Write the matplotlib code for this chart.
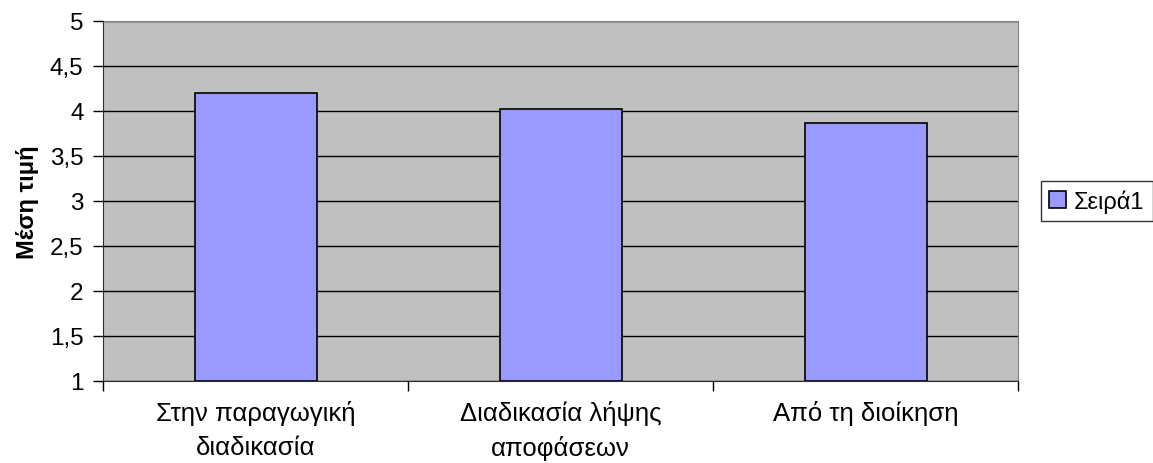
import numpy as np
import matplotlib
matplotlib.use('Agg')
import matplotlib.pyplot as plt
from matplotlib.ticker import FuncFormatter, MultipleLocator

plt.rcParams['font.family'] = ['Liberation Sans', 'DejaVu Sans']

# categories and mean values
categories = ['Στην παραγωγική\nδιαδικασία', 'Διαδικασία λήψης\nαποφάσεων', 'Από τη διοίκηση']
values = [4.2, 4.02, 3.87]
series_name = 'Σειρά1'
ylabel = 'Μέση τιμή'

fig = plt.figure(figsize=(11.53, 4.64), dpi=100)
ax = fig.add_axes([103/1153, 82/464, 915/1153, 360/464])
ax.set_facecolor('#C0C0C0')

x = np.arange(len(categories))
ax.bar(x, np.array(values) - 1, bottom=1, width=0.4, color='#9999FF',
       edgecolor='black', linewidth=1.2, label=series_name, zorder=3)

ax.set_xlim(-0.5, len(categories) - 0.5)
ax.set_ylim(1, 5)
ax.yaxis.set_major_locator(MultipleLocator(0.5))
ax.yaxis.set_major_formatter(FuncFormatter(lambda v, p: ('%g' % v).replace('.', ',')))
ax.grid(axis='y', color='black', linewidth=1, zorder=1)

ax.set_xticks(x)
ax.set_xticklabels(categories, fontsize=18.5, linespacing=1.5)
ax.set_xticks(np.arange(len(categories) + 1) - 0.5, minor=True)
ax.tick_params(axis='x', which='major', length=0, pad=14)
ax.tick_params(axis='x', which='minor', length=7, width=1, color='black')
ax.tick_params(axis='y', length=7, width=1, labelsize=17.5, pad=7)

for s in ['top', 'right']:
    ax.spines[s].set_color('#808080')
for s in ['left', 'bottom']:
    ax.spines[s].set_color('#303030')
    ax.spines[s].set_zorder(4)

ax.set_ylabel(ylabel, fontsize=17, fontweight='bold', labelpad=8)

leg = fig.legend(loc='center left', bbox_to_anchor=(1041/1153, (464 - 202)/464),
                 fontsize=17, frameon=True, fancybox=False, edgecolor='black',
                 handlelength=0.7, handleheight=0.7, handletextpad=0.35,
                 borderpad=0.35, borderaxespad=0)
leg.get_frame().set_linewidth(1)

fig.savefig('out.png', dpi=100)
